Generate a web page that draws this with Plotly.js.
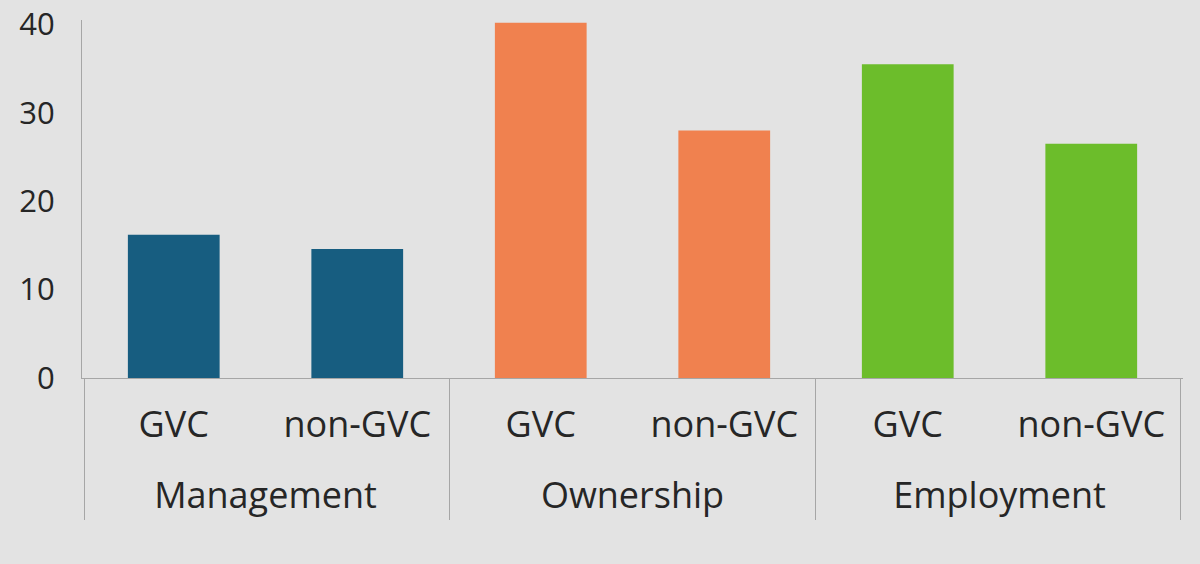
<!DOCTYPE html>
<html>
<head>
<meta charset="utf-8">
<script src="https://cdn.plot.ly/plotly-3.0.1.min.js"></script>
<style>
  html, body { margin: 0; padding: 0; background: #e3e3e3; }
  #chart { width: 1200px; height: 564px; }
</style>
</head>
<body>
<div id="chart"></div>
<script>
// ---- data ----
const groups = ['Management', 'Management', 'Ownership', 'Ownership', 'Employment', 'Employment'];
const firmTypes = ['GVC', 'non-GVC', 'GVC', 'non-GVC', 'GVC', 'non-GVC'];
const values = [16.2, 14.6, 40.2, 28.0, 35.5, 26.5];
const yTicks = [0, 10, 20, 30, 40];

// ---- styling ----
const groupColors = { Management: '#175d80', Ownership: '#f0814f', Employment: '#6cbd2b' };
const textColor = '#262626';
const lineColor = '#a6a6a6';
const fontFamily = '"Open Sans", Lato, sans-serif';

// derived category positions (one slot per bar, groups of consecutive slots)
const slots = values.map((_, i) => i);
const groupNames = groups.filter((g, i) => groups.indexOf(g) === i);
const groupCenters = groupNames.map(g => {
  const idx = slots.filter(i => groups[i] === g);
  return idx.reduce((a, b) => a + b, 0) / idx.length;
});
const groupBounds = [];
groupNames.forEach(g => {
  const idx = slots.filter(i => groups[i] === g);
  if (groupBounds.length === 0) groupBounds.push(idx[0] - 0.5);
  groupBounds.push(idx[idx.length - 1] + 0.5);
});
const xRange = [slots[0] - 0.5, slots[slots.length - 1] + 0.5];
const eps = 0.015; // keeps the outer dividers inside the divider axis range
const dividerRange = [xRange[0] - eps, xRange[1] + eps];

const bars = {
  type: 'bar',
  x: slots,
  y: values,
  customdata: groups.map((g, i) => g + ' ' + firmTypes[i]),
  hovertemplate: '%{customdata}: %{y}<extra></extra>',
  marker: { color: groups.map(g => groupColors[g]), line: { width: 0 } }
};
// invisible helpers so the group-label axis and the divider axis are drawn
const groupAxisHelper = {
  type: 'scatter', mode: 'markers', xaxis: 'x2', yaxis: 'y',
  x: groupCenters, y: groupCenters.map(() => 0),
  marker: { opacity: 0 }, hoverinfo: 'skip'
};
const dividerAxisHelper = {
  type: 'scatter', mode: 'markers', xaxis: 'x3', yaxis: 'y',
  x: groupBounds, y: groupBounds.map(() => 0),
  marker: { opacity: 0 }, hoverinfo: 'skip'
};

const layout = {
  width: 1200,
  height: 564,
  paper_bgcolor: '#e3e3e3',
  plot_bgcolor: 'rgba(0,0,0,0)',
  margin: { l: 82, r: 17, t: 20, b: 44 },
  showlegend: false,
  bargap: 0.5,
  font: { family: fontFamily, color: textColor },
  xaxis: {
    anchor: 'y',
    range: xRange,
    tickvals: slots,
    ticktext: firmTypes,
    showline: true,
    linecolor: lineColor,
    linewidth: 1,
    showgrid: false,
    zeroline: false,
    ticks: 'outside',
    ticklen: 15,
    tickcolor: 'rgba(0,0,0,0)',
    tickfont: { size: 36, family: fontFamily, color: textColor }
  },
  xaxis2: {
    overlaying: 'x',
    anchor: 'free',
    side: 'bottom',
    position: 0.098,
    range: xRange,
    tickvals: groupCenters,
    ticktext: groupNames,
    showline: false,
    showgrid: false,
    zeroline: false,
    ticks: '',
    tickfont: { size: 36, family: fontFamily, color: textColor }
  },
  xaxis3: {
    overlaying: 'x',
    anchor: 'free',
    side: 'bottom',
    position: 0,
    range: dividerRange,
    tickvals: groupBounds,
    showticklabels: false,
    showline: false,
    showgrid: false,
    zeroline: false,
    ticks: 'inside',
    ticklen: 142,
    tickwidth: 1,
    tickcolor: lineColor
  },
  yaxis: {
    domain: [0.284, 1],
    range: [0, 40.5],
    tickvals: yTicks,
    ticktext: yTicks.map(String),
    showline: true,
    linecolor: lineColor,
    linewidth: 1,
    showgrid: false,
    zeroline: false,
    ticks: '',
    ticklabelstandoff: 20,
    tickfont: { size: 31, family: fontFamily, color: textColor }
  }
};

Plotly.newPlot('chart', [bars, groupAxisHelper, dividerAxisHelper], layout, { displayModeBar: false, staticPlot: true });
</script>
</body>
</html>
